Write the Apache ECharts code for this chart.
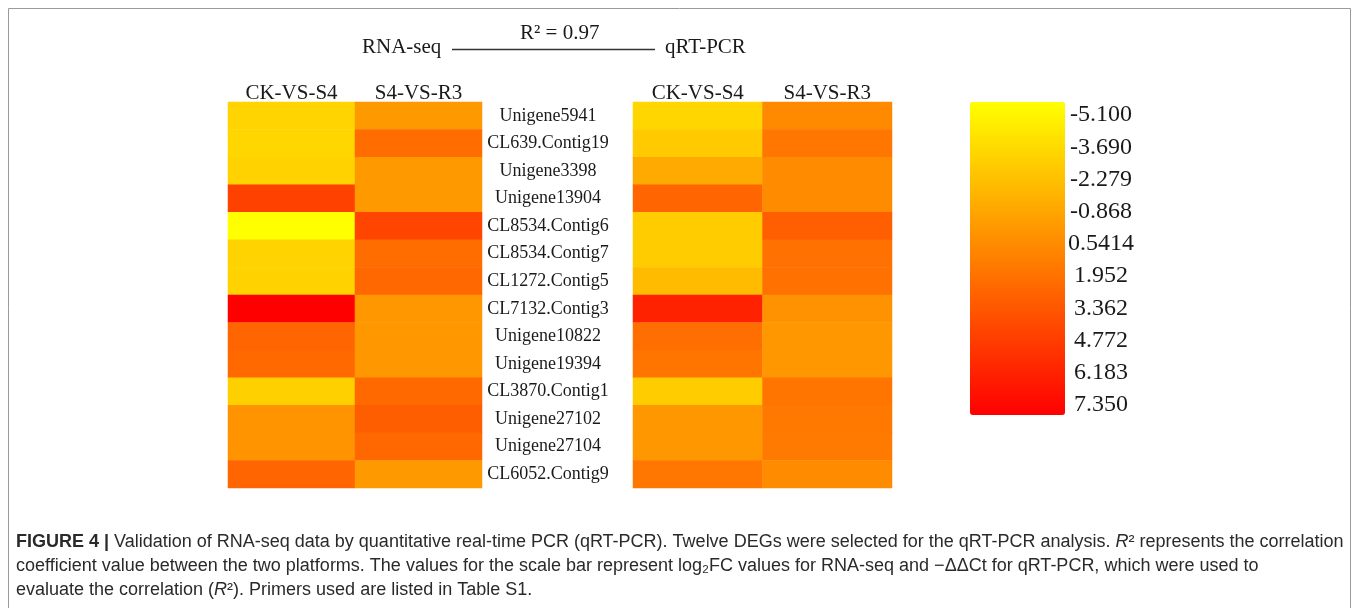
<!DOCTYPE html>
<html>
<head>
<meta charset="utf-8">
<script src="https://cdn.jsdelivr.net/npm/echarts@6/dist/echarts.min.js"></script>
<style>
html,body{margin:0;padding:0;background:#fff;}
#chart{width:1358px;height:608px;}
</style>
</head>
<body>
<div id="chart"></div>
<script>
// ---- data ----
const genes = ['Unigene5941','CL639.Contig19','Unigene3398','Unigene13904','CL8534.Contig6','CL8534.Contig7','CL1272.Contig5','CL7132.Contig3','Unigene10822','Unigene19394','CL3870.Contig1','Unigene27102','Unigene27104','CL6052.Contig9'];
const comparisons = ['CK-VS-S4','S4-VS-R3'];
const rnaSeqCK_S4 = [-3.0,-3.1,-2.9,4.2,-5.1,-2.95,-2.9,7.35,2.4,2.2,-2.8,0.1,0.1,2.4];
const rnaSeqS4_R3 = [-0.1,2.1,-0.1,-0.1,4.0,2.1,2.3,0.0,0.0,0.0,2.2,2.75,2.3,-0.1];
const qpcrCK_S4 = [-3.1,-2.55,-0.95,2.4,-2.6,-2.6,-1.8,5.7,2.0,1.65,-2.6,0.0,0.0,1.55];
const qpcrS4_R3 = [0.6,1.6,0.55,0.55,2.7,1.85,1.85,0.2,0.0,0.0,1.65,1.5,1.4,0.5];
const scaleLabels = ['-5.100','-3.690','-2.279','-0.868','0.5414','1.952','3.362','4.772','6.183','7.350'];
const scaleMin = -5.1, scaleMax = 7.35;
const platformLeft = 'RNA-seq', platformRight = 'qRT-PCR', rSquared = 'R² = 0.97';

function toCells(a, b) {
  const out = [];
  a.forEach((v, i) => out.push([0, i, v]));
  b.forEach((v, i) => out.push([1, i, v]));
  return out;
}

const serif = 'Liberation Serif';
const chart = echarts.init(document.getElementById('chart'), null, {renderer: 'canvas'});

const xAxisCommon = {
  type: 'category', data: comparisons, position: 'top',
  axisLine: {show: false}, axisTick: {show: false}, splitLine: {show: false},
  axisLabel: {fontFamily: serif, fontSize: 21, color: '#1a1a1a', margin: -2}
};

chart.setOption({
  animation: false,
  backgroundColor: '#fff',
  grid: [
    {left: 228, top: 102, width: 254, height: 386},
    {left: 633, top: 102, width: 259, height: 386},
    {left: 1000, top: 115, width: 65, height: 290}
  ],
  xAxis: [
    Object.assign({gridIndex: 0}, xAxisCommon),
    Object.assign({gridIndex: 1}, xAxisCommon),
    {gridIndex: 2, type: 'value', show: false}
  ],
  yAxis: [
    {gridIndex: 0, type: 'category', data: genes, inverse: true, position: 'right',
     axisLine: {show: false}, axisTick: {show: false}, splitLine: {show: false},
     axisLabel: {fontFamily: serif, fontSize: 18, color: '#1a1a1a', align: 'center', margin: 66}},
    {gridIndex: 1, type: 'category', data: genes, inverse: true, show: false},
    {gridIndex: 2, type: 'category', data: scaleLabels, inverse: true, position: 'right',
     boundaryGap: false,
     axisLine: {show: false}, axisTick: {show: false}, splitLine: {show: false},
     axisLabel: {fontFamily: serif, fontSize: 24, color: '#1a1a1a', align: 'center', margin: 36, interval: 0}}
  ],
  visualMap: {
    type: 'continuous', min: scaleMin, max: scaleMax, seriesIndex: [0, 1],
    orient: 'vertical', inverse: true, calculable: false, hoverLink: false,
    left: 970, top: 102, padding: 0, itemWidth: 95, itemHeight: 313,
    text: null, showLabel: false,
    inRange: {color: ['#ffff00', '#ff0000']}
  },
  series: [
    {type: 'heatmap', xAxisIndex: 0, yAxisIndex: 0, data: toCells(rnaSeqCK_S4, rnaSeqS4_R3),
     itemStyle: {borderWidth: 0}, emphasis: {disabled: true}},
    {type: 'heatmap', xAxisIndex: 1, yAxisIndex: 1, data: toCells(qpcrCK_S4, qpcrS4_R3),
     itemStyle: {borderWidth: 0}, emphasis: {disabled: true}}
  ],
  graphic: [
    {type: 'rect', silent: true, shape: {x: 8.5, y: 8.5, width: 1342, height: 640},
     style: {fill: 'none', stroke: '#9a9a9a', lineWidth: 1}},
    {type: 'text', left: 362, top: 37, silent: true,
     style: {text: platformLeft, fontFamily: serif, fontSize: 21, fill: '#1a1a1a'}},
    {type: 'text', left: 520, top: 23, silent: true,
     style: {text: rSquared, fontFamily: serif, fontSize: 21, fill: '#1a1a1a'}},
    {type: 'line', silent: true, shape: {x1: 452, y1: 49.5, x2: 655, y2: 49.5},
     style: {stroke: '#333', lineWidth: 1.5}},
    {type: 'text', left: 665, top: 37, silent: true,
     style: {text: platformRight, fontFamily: serif, fontSize: 21, fill: '#1a1a1a'}},
    {type: 'text', left: 16, top: 530, silent: true,
     style: {
       text: '{b|FIGURE 4 |} Validation of RNA-seq data by quantitative real-time PCR (qRT-PCR). Twelve DEGs were selected for the qRT-PCR analysis. {i|R}² represents the correlation\n' +
             'coefficient value between the two platforms. The values for the scale bar represent log₂FC values for RNA-seq and −ΔΔCt for qRT-PCR, which were used to\n' +
             'evaluate the correlation ({i|R}²). Primers used are listed in Table S1.',
       fontFamily: 'Liberation Sans', fontSize: 18, lineHeight: 24, fill: '#2a2a2a',
       rich: {
         b: {fontFamily: 'Liberation Sans', fontSize: 18, fontWeight: 'bold', fill: '#2a2a2a', lineHeight: 24},
         i: {fontFamily: 'Liberation Sans', fontSize: 18, fontStyle: 'italic', fill: '#2a2a2a', lineHeight: 24}
       }
     }}
  ]
});
</script>
</body>
</html>
